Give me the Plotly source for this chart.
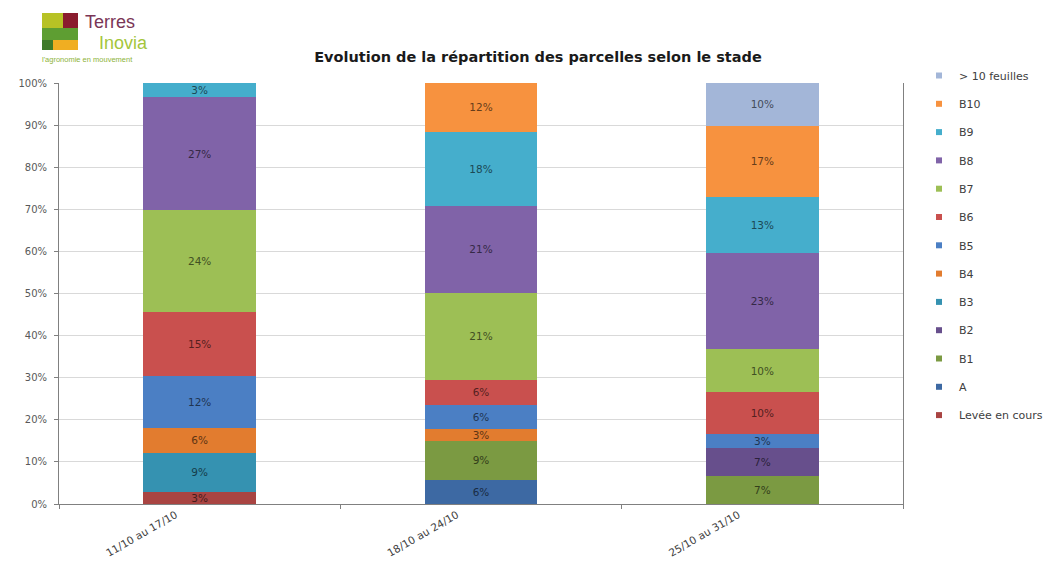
import plotly.graph_objects as go

# ---------------- data ----------------
categories = ["11/10 au 17/10", "18/10 au 24/10", "25/10 au 31/10"]
series_names = ["Levée en cours", "A", "B1", "B2", "B3", "B4", "B5", "B6",
                "B7", "B8", "B9", "B10", "> 10 feuilles"]
levee = [2.8, 0, 0]
stade_a = [0, 5.8, 0]
b1 = [0, 9.2, 6.7]
b2 = [0, 0, 6.6]
b3 = [9.4, 0, 0]
b4 = [5.8, 2.8, 0]
b5 = [12.4, 5.8, 3.4]
b6 = [15.2, 5.8, 10.0]
b7 = [24.2, 20.8, 10.0]
b8 = [26.8, 20.6, 23.0]
b9 = [3.4, 17.6, 13.3]
b10 = [0, 11.6, 16.9]
plus10 = [0, 0, 10.1]
series_values = [levee, stade_a, b1, b2, b3, b4, b5, b6, b7, b8, b9, b10, plus10]
y_ticks = list(range(0, 101, 10))
y_tick_text = [f"{v}%" for v in y_ticks]

# ---------------- style ----------------
colors = ["#A94442", "#3D69A3", "#7B9A42", "#674F8C", "#3592B1", "#E27C2F",
          "#4B7FC4", "#C9504E", "#9DBF55", "#8063A8", "#45AECC", "#F7923F",
          "#A3B6D8"]


def darken(hex_color, f=0.42):
    h = hex_color.lstrip("#")
    r, g, b = (int(h[i:i + 2], 16) for i in (0, 2, 4))
    return "#%02x%02x%02x" % (int(r * f), int(g * f), int(b * f))


FONT = "DejaVu Sans, Verdana, sans-serif"
LOGO_FONT = "Liberation Sans, Arial, sans-serif"
OFF = 8                      # default body margin of the html page
W, H = 1058 - 2 * OFF, 570 - 2 * OFF
# plot area in reference (screen) pixels
X0, X1, Y0, Y1 = 59, 903, 83, 504
L, R, T, B = X0 - OFF, W - (X1 - OFF), Y0 - OFF, H - (Y1 - OFF)
PW, PH = X1 - X0, Y1 - Y0


def px(x):
    return (x - X0) / PW


def py(y):
    return 1 - (y - Y0) / PH


fig = go.Figure()

for name, vals, col in zip(series_names, series_values, colors):
    yv = [v if v > 0 else None for v in vals]
    fig.add_trace(go.Bar(
        x=categories, y=yv, name=name,
        marker=dict(color=col, line=dict(width=0)),
        texttemplate="%{y:.0f}%",
        textposition="inside", insidetextanchor="middle",
        textangle=0, constraintext="none",
        insidetextfont=dict(family=FONT, size=10.5, color=darken(col)),
        showlegend=False, hoverinfo="skip",
    ))

# legend entries (small square markers), top to bottom
for name, col in reversed(list(zip(series_names, colors))):
    fig.add_trace(go.Scatter(
        x=[None], y=[None], mode="markers", name=name,
        marker=dict(symbol="square", size=6, color=col),
        legendgroup=name, showlegend=True, hoverinfo="skip",
    ))

# ---------------- logo ----------------
shapes = []


def rect(x0, y0, x1, y1, color):
    shapes.append(dict(type="rect", xref="paper", yref="paper",
                       x0=px(x0), x1=px(x1), y0=py(y1), y1=py(y0),
                       fillcolor=color, line=dict(width=0), layer="above"))


rect(42, 13, 63, 28, "#B7C225")
rect(63, 13, 78, 28, "#8A1C2E")
rect(42, 28, 78, 40, "#5E9E32")
rect(42, 40, 53, 50, "#3F7A2A")
rect(53, 40, 78, 50, "#F0AE22")

annotations = [
    dict(text="Terres", xref="paper", yref="paper", x=px(84), y=py(22),
         xanchor="left", yanchor="middle", showarrow=False, borderpad=0,
         font=dict(family=LOGO_FONT, size=18, color="#7A3556")),
    dict(text="Inovia", xref="paper", yref="paper", x=px(98), y=py(43),
         xanchor="left", yanchor="middle", showarrow=False, borderpad=0,
         font=dict(family=LOGO_FONT, size=18, color="#A4C63C")),
    dict(text="l'agronomie en mouvement", xref="paper", yref="paper",
         x=px(41), y=py(59), xanchor="left", yanchor="middle", showarrow=False,
         borderpad=0,
         font=dict(family=LOGO_FONT, size=7.5, color="#8DB33A")),
]

fig.update_layout(
    width=W, height=H,
    barmode="stack", bargap=0.6,
    paper_bgcolor="white", plot_bgcolor="white",
    margin=dict(l=L, r=R, t=T, b=B, autoexpand=False),
    font=dict(family=FONT, size=10, color="#404040"),
    title=dict(text="<b>Evolution de la répartition des parcelles selon le stade</b>",
               x=px(538), xref="paper", xanchor="center",
               y=1 - (57 - OFF) / H, yref="container", yanchor="middle",
               font=dict(family=FONT, size=14.5, color="#1a1a1a")),
    legend=dict(x=px(919), y=py(430), xanchor="left", yanchor="bottom",
                traceorder="grouped", tracegroupgap=9.3,
                font=dict(family=FONT, size=11, color="#404040"),
                itemwidth=30, bgcolor="rgba(0,0,0,0)"),
    shapes=shapes,
    annotations=annotations,
)

fig.update_xaxes(
    type="category", showgrid=False,
    showline=True, linecolor="#808080", linewidth=1,
    ticks="outside", tickson="boundaries", ticklen=4, tickcolor="#808080",
    tickangle=-30, ticklabelshift=-24,
    tickfont=dict(family=FONT, size=10.5, color="#404040"),
)
fig.update_yaxes(
    range=[0, 100], tickmode="array", tickvals=y_ticks, ticktext=y_tick_text,
    showgrid=True, gridcolor="#D9D9D9", gridwidth=1,
    showline=True, linecolor="#808080", linewidth=1, mirror=True,
    ticks="outside", ticklen=4, tickcolor="#808080", ticklabelstandoff=5,
    tickfont=dict(family=FONT, size=10, color="#595959"),
    zeroline=False,
)

fig.write_html("out.html")
